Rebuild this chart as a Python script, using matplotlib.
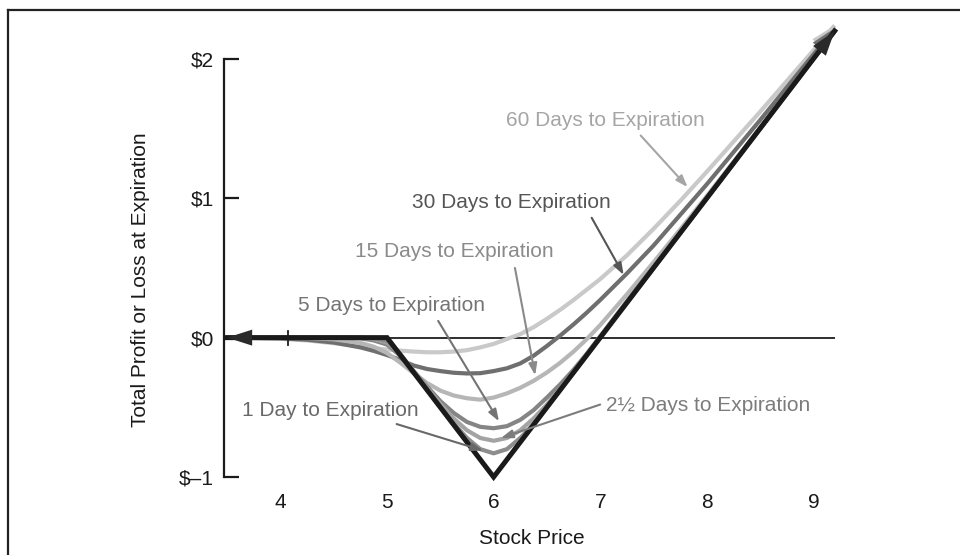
import matplotlib
matplotlib.use("Agg")
import matplotlib.pyplot as plt
from matplotlib.lines import Line2D

plt.rcParams['font.family'] = ['Liberation Sans', 'DejaVu Sans']

price = [3.5, 4.0, 4.25, 4.5, 4.75, 4.875, 5.0, 5.125, 5.25, 5.375, 5.5, 5.625,
         5.75, 5.875, 6.0, 6.125, 6.25, 6.375, 6.5, 6.625, 6.75, 6.875, 7.0,
         7.25, 7.5, 7.75, 8.0, 8.5, 9.0, 9.2]

days_60 = [0.0, -0.008, -0.02, -0.04, -0.063, -0.075, -0.085, -0.093, -0.10, -0.105,
           -0.105, -0.10, -0.09, -0.07, -0.045, -0.01, 0.025, 0.075, 0.135, 0.20,
           0.27, 0.345, 0.42, 0.59, 0.78, 0.98, 1.19, 1.62, 2.06, 2.24]
days_30 = [0.0, -0.005, -0.015, -0.035, -0.07, -0.095, -0.125, -0.16, -0.20, -0.225,
           -0.24, -0.252, -0.257, -0.255, -0.24, -0.22, -0.185, -0.13, -0.06, 0.015,
           0.095, 0.18, 0.27, 0.46, 0.66, 0.88, 1.10, 1.56, 2.03, 2.22]
days_15 = [0.0, 0.0, -0.003, -0.012, -0.038, -0.065, -0.11, -0.18, -0.255, -0.325,
           -0.38, -0.415, -0.435, -0.445, -0.43, -0.40, -0.36, -0.31, -0.25, -0.18,
           -0.10, -0.01, 0.09, 0.31, 0.54, 0.775, 1.015, 1.505, 2.0, 2.2]
days_5 = [0.0, 0.0, 0.0, 0.0, -0.005, -0.02, -0.05, -0.13, -0.24, -0.35,
          -0.455, -0.54, -0.605, -0.64, -0.65, -0.635, -0.59, -0.52, -0.43, -0.335,
          -0.23, -0.115, 0.01, 0.26, 0.505, 0.752, 1.0, 1.5, 2.0, 2.2]
days_2h = [0.0, 0.0, 0.0, 0.0, 0.0, -0.01, -0.035, -0.12, -0.24, -0.36,
           -0.475, -0.58, -0.665, -0.72, -0.74, -0.72, -0.665, -0.58, -0.48, -0.365,
           -0.245, -0.12, 0.005, 0.251, 0.5, 0.75, 1.0, 1.5, 2.0, 2.2]
days_1 = [0.0, 0.0, 0.0, 0.0, 0.0, -0.003, -0.025, -0.12, -0.245, -0.37,
          -0.495, -0.615, -0.72, -0.80, -0.83, -0.80, -0.72, -0.62, -0.50, -0.375,
          -0.25, -0.125, 0.0, 0.25, 0.5, 0.75, 1.0, 1.5, 2.0, 2.2]

# value at expiration (kinks only)
exp_price = [3.5, 5.0, 6.0, 9.2]
exp_value = [0.0, 0.0, -1.0, 2.2]

curves = [
    (days_60, '#c9c9c9'),
    (days_30, '#6f6f6f'),
    (days_15, '#b6b6b6'),
    (days_5, '#858585'),
    (days_2h, '#a3a3a3'),
    (days_1, '#8d8d8d'),
]

# label text, text position, arrow start, arrow tip, colour
labels = [
    ("60 Days to Expiration", (7.05, 1.56), (7.38, 1.45), (7.82, 1.08), '#a5a5a5'),
    ("30 Days to Expiration", (6.17, 0.97), (6.92, 0.86), (7.22, 0.45), '#555555'),
    ("15 Days to Expiration", (5.63, 0.62), (6.2, 0.50), (6.39, -0.27), '#8a8a8a'),
    ("5 Days to Expiration", (5.04, 0.23), (5.48, 0.12), (6.05, -0.60), '#747474'),
    ("1 Day to Expiration", (4.47, -0.52), (5.09, -0.62), (5.90, -0.81), '#686868'),
    ("2\u00bd Days to Expiration", (8.01, -0.49), (7.0, -0.48), (6.07, -0.72), '#7c7c7c'),
]

big_head = '-|>,head_length=1.0,head_width=0.32'

fig = plt.figure(figsize=(9.6, 5.55), dpi=100)
ax = fig.add_axes([0.2333, 0.1405, 0.6417, 0.8288])
ax.set_xlim(3.47, 9.25)
ax.set_ylim(-1.0, 2.3)

ax.hlines(0, 3.47, 9.2, color='#1e1e1e', lw=1.3, zorder=1)
ax.plot([4.07, 4.07], [-0.05, 0.05], color='#1e1e1e', lw=1.3, zorder=6)

for vals, col in curves:
    ax.plot(price, vals, color=col, lw=3.0, solid_capstyle='butt', zorder=2,
            clip_on=False)

# arrowheads on the two long-dated curves
for vals, col in curves[:2]:
    ax.annotate('', xy=(price[-1], vals[-1]), xytext=(price[-2], vals[-2]),
                arrowprops=dict(arrowstyle=big_head, mutation_scale=18,
                                color=col, lw=0, shrinkA=0, shrinkB=0),
                zorder=3, annotation_clip=False)

ax.plot(exp_price, exp_value, color='#1a1a1a', lw=3.6, zorder=4,
        solid_joinstyle='miter', clip_on=False)
ax.annotate('', xy=(exp_price[-1], exp_value[-1]), xytext=(exp_price[-2], exp_value[-2]),
            arrowprops=dict(arrowstyle=big_head, mutation_scale=18,
                            color='#2a2a2a', lw=0, shrinkA=0, shrinkB=0),
            zorder=5, annotation_clip=False)
ax.annotate('', xy=(exp_price[0], exp_value[0]), xytext=(exp_price[1], exp_value[1]),
            arrowprops=dict(arrowstyle=big_head, mutation_scale=18,
                            color='#2a2a2a', lw=0, shrinkA=0, shrinkB=0),
            zorder=5, annotation_clip=False)

for text, tpos, astart, atip, col in labels:
    ax.text(tpos[0], tpos[1], text, color=col, fontsize=15, ha='center', va='center')
    ax.annotate('', xy=atip, xytext=astart,
                arrowprops=dict(arrowstyle='-|>,head_length=0.7,head_width=0.25',
                                color=col, lw=1.5, shrinkA=0, shrinkB=0),
                zorder=7)

for s in ['top', 'right', 'bottom']:
    ax.spines[s].set_visible(False)
ax.spines['left'].set_bounds(-1, 2)
ax.spines['left'].set_linewidth(1.6)
ax.spines['left'].set_color('#1a1a1a')

ax.set_yticks([-1, 0, 1, 2])
ax.set_yticklabels(['$\u20131', '$0', '$1', '$2'])
ax.set_xticks([4, 5, 6, 7, 8, 9])
ax.tick_params(axis='y', direction='in', length=11, width=1.6, color='#1a1a1a',
               pad=7, labelsize=15, labelcolor='#1a1a1a')
ax.tick_params(axis='x', length=0, pad=11.5, labelsize=15, labelcolor='#1a1a1a')

ax.set_xlabel('Stock Price', fontsize=15, color='#1a1a1a', labelpad=12)
ax.set_ylabel('Total Profit or Loss at Expiration', fontsize=15, color='#1a1a1a')
ax.yaxis.set_label_coords(-0.12, 0.43)

# frame around the figure (top and left edges)
fig.add_artist(Line2D([8 / 960, 1], [1 - 10 / 555, 1 - 10 / 555],
                      color='#222222', lw=1.6, transform=fig.transFigure))
fig.add_artist(Line2D([8 / 960, 8 / 960], [0, 1 - 10 / 555],
                      color='#222222', lw=1.6, transform=fig.transFigure))

fig.savefig('out.png', dpi=100)
